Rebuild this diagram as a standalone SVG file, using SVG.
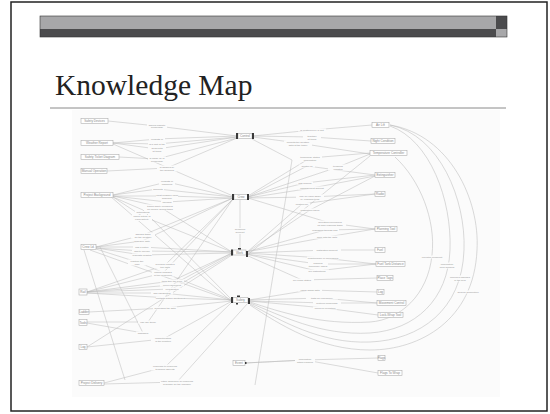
<svg xmlns="http://www.w3.org/2000/svg" width="550" height="414" viewBox="0 0 550 414">
  <style>
    .box { fill: #ffffff; stroke: #a8a8a8; stroke-width: 0.55; }
    .nt { font-family: "Liberation Sans", Arial, sans-serif; font-size: 3.1px; fill: #8a8a8a; text-anchor: middle; }
    .lt { font-family: "Liberation Sans", Arial, sans-serif; font-size: 2.5px; fill: #939393; text-anchor: middle; }
    .edge { stroke: #b8b8b8; stroke-width: 0.5; fill: none; }
    .arc { stroke: #bcbcbc; stroke-width: 0.55; fill: none; }
    .knob { fill: #3a3a3a; }
    .lbg { fill: #fbfbfb; }
  </style>

  <!-- slide frame -->
  <rect x="11" y="2" width="536" height="409" fill="#ffffff" stroke="#222222" stroke-width="1.5"/>

  <!-- header bar -->
  <g id="header-bar">
    <rect x="40" y="16" width="456" height="13" fill="#a7a7a9"/>
    <rect x="40" y="29" width="456" height="8" fill="#4b4b4d"/>
    <rect x="496" y="16" width="11" height="13" fill="#4b4b4d"/>
    <rect x="496" y="29" width="11" height="8" fill="#a7a7a9"/>
    <rect x="40" y="16" width="467" height="21" fill="none" stroke="#333" stroke-width="0.6"/>
  </g>

  <text x="55" y="95" font-family="Liberation Serif, 'Times New Roman', serif" font-size="29.5" fill="#222">Knowledge Map</text>
  <line x1="50" y1="108" x2="506" y2="108" stroke="#8a8a8a" stroke-width="1"/>

  <!-- map panel -->
  <rect x="72" y="110" width="428" height="287" fill="#fbfbfb"/>

  <g id="connectors">
    <!-- left side into Control -->
    <polyline class="edge" points="108,121 157,126 237,136"/>
    <polyline class="edge" points="113,143 157,139 237,136"/>
    <polyline class="edge" points="113,143 157,144 237,137"/>
    <polyline class="edge" points="113,143 157,149 237,137"/>
    <polyline class="edge" points="119,157 157,159 237,138"/>
    <polyline class="edge" points="107,171 167,168 237,138"/>
    <!-- Project Background -->
    <polyline class="edge" points="113,195 167,182 233,197"/>
    <polyline class="edge" points="113,195 158,189 233,197"/>
    <polyline class="edge" points="113,196 167,196 233,198"/>
    <polyline class="edge" points="113,196 167,202 233,198"/>
    <polyline class="edge" points="113,196 160,207 232,252"/>
    <polyline class="edge" points="113,197 143,210 232,300"/>
    <polyline class="edge" points="113,197 142,216 232,252"/>
    <!-- Crew Leader -->
    <polyline class="edge" points="96,247 143,235 233,198"/>
    <polyline class="edge" points="96,247 142,241 233,198"/>
    <polyline class="edge" points="96,247 142,247 232,252"/>
    <polyline class="edge" points="96,248 142,251 232,252"/>
    <polyline class="edge" points="96,248 142,255 232,253"/>
    <polyline class="edge" points="96,249 137,262 232,300"/>
    <line class="edge" x1="90" y1="250" x2="232" y2="301"/>
    <line class="edge" x1="84" y1="250" x2="125" y2="380"/>
    <!-- Rail -->
    <polyline class="edge" points="87,292 165,265 233,199"/>
    <polyline class="edge" points="87,292 163,273 233,199"/>
    <polyline class="edge" points="87,292 172,281 232,253"/>
    <polyline class="edge" points="87,292 172,285 232,253"/>
    <polyline class="edge" points="87,292 172,289 232,254"/>
    <polyline class="edge" points="87,293 162,293 232,300"/>
    <polyline class="edge" points="87,293 170,298 232,300"/>
    <!-- Ladder, Tools, Log -->
    <polyline class="edge" points="89,312 165,308 232,301"/>
    <polyline class="edge" points="87,322 148,322 233,199"/>
    <polyline class="edge" points="87,323 143,333 100,247"/>
    <polyline class="edge" points="87,347 163,339 232,301"/>
    <line class="edge" x1="87" y1="347" x2="232" y2="255"/>
    <line class="edge" x1="110" y1="196" x2="232" y2="302"/>
    <line class="edge" x1="113" y1="144" x2="233" y2="196"/>
    <!-- Project Delivery -->
    <polyline class="edge" points="104,383 165,367 232,302"/>
    <polyline class="edge" points="104,384 177,382 248,303"/>
    <!-- between hubs -->
    <polyline class="edge" points="240,200 240,230 240,250"/>
    <line class="edge" x1="252" y1="139" x2="292" y2="160"/>
    <line class="edge" x1="292" y1="160" x2="255" y2="385"/>
    <line class="edge" x1="370" y1="156" x2="246" y2="256"/>

    <!-- Control to the right -->
    <polyline class="edge" points="253,136 312,130 372,125"/>
    <polyline class="edge" points="253,136 312,137 371,141"/>
    <polyline class="edge" points="253,137 298,143 370,154"/>
    <polyline class="edge" points="248,196 310,158 370,153"/>
    <polyline class="edge" points="248,197 307,166 375,175"/>
    <polyline class="edge" points="248,197 338,167 370,154"/>
    <polyline class="edge" points="248,197 305,183 375,175"/>
    <polyline class="edge" points="248,198 312,188 375,176"/>
    <polyline class="edge" points="248,198 310,197 375,194"/>
    <polyline class="edge" points="246,253 302,204 375,194"/>
    <polyline class="edge" points="246,253 310,210 375,176"/>
    <polyline class="edge" points="248,198 330,223 375,229"/>
    <polyline class="edge" points="246,252 325,230 375,229"/>
    <polyline class="edge" points="246,252 327,237 375,229"/>
    <polyline class="edge" points="246,253 327,250 375,250"/>
    <polyline class="edge" points="246,253 323,258 376,264"/>
    <polyline class="edge" points="246,254 318,264 376,264"/>
    <polyline class="edge" points="246,254 317,271 376,264"/>
    <polyline class="edge" points="246,255 302,280 377,278"/>
    <polyline class="edge" points="249,300 310,290 377,292"/>
    <polyline class="edge" points="249,300 322,298 377,303"/>
    <polyline class="edge" points="249,301 327,303 377,303"/>
    <polyline class="edge" points="249,301 325,308 378,315"/>
    <polyline class="edge" points="245,363 305,360 378,358"/>
    <polyline class="edge" points="245,363 305,360 378,373"/>

    <!-- long sweeps from Safety round to the top right -->
    <path class="arc" d="M250,305 C280,325 320,350 370,350 C420,350 474,320 477,250 C480,200 450,135 390,125"/>
    <path class="arc" d="M250,304 C280,320 320,344 370,342 C420,340 462,310 464,250 C466,200 440,135 390,125"/>
    <path class="arc" d="M250,303 C280,315 320,336 370,333 C415,330 448,300 450,250 C452,200 430,140 390,126"/>
    <path class="arc" d="M250,302 C280,312 320,325 370,322 C400,320 428,295 432,255 C436,220 420,180 395,157"/>

    <!-- link phrases -->
    <g class="lt">
      <rect class="lbg" x="147" y="123" width="20" height="6"/>
      <text x="157" y="125.5">should indicate</text><text x="157" y="128.3">knowledge</text>
      <rect class="lbg" x="149" y="137.5" width="16" height="3"/><text x="157" y="139.8">consists of</text>
      <rect class="lbg" x="148" y="142.5" width="18" height="3"/><text x="157" y="144.8">is a part of the</text>
      <rect class="lbg" x="148" y="146.5" width="18" height="6"/>
      <text x="157" y="148.8">deals with</text><text x="157" y="151.6">at times</text>
      <rect class="lbg" x="148" y="156.5" width="18" height="6"/>
      <text x="157" y="158.8">is made up of</text><text x="157" y="161.6">knowledge</text>
      <rect class="lbg" x="157" y="165.5" width="20" height="6"/>
      <text x="167" y="167.8">is handled by</text><text x="167" y="170.6">the workflow</text>

      <rect class="lbg" x="159" y="179.5" width="16" height="6"/>
      <text x="167" y="181.8">consists of</text><text x="167" y="184.6">machines</text>
      <rect class="lbg" x="152" y="187.5" width="12" height="3"/><text x="158" y="189.8">supports</text>
      <rect class="lbg" x="156" y="193.5" width="22" height="6"/>
      <text x="167" y="195.8">must consider each</text><text x="167" y="198.6">schedule</text>
      <rect class="lbg" x="161" y="200.5" width="12" height="3"/><text x="167" y="202.8">includes</text>
      <rect class="lbg" x="146" y="204.5" width="28" height="6"/>
      <text x="160" y="206.8">tracks safety measures</text><text x="160" y="209.6">for worker during tasks</text>
      <rect class="lbg" x="135" y="211" width="16" height="3"/><text x="143" y="213.3">notifications</text>
      <rect class="lbg" x="132" y="215" width="20" height="6"/>
      <text x="142" y="217.3">forms outline of</text><text x="142" y="220.1">each activity</text>

      <rect class="lbg" x="131" y="232.5" width="24" height="6"/>
      <text x="143" y="234.8">assigns tasks</text><text x="143" y="237.6">for the weather</text>
      <rect class="lbg" x="134" y="239.5" width="16" height="3"/><text x="142" y="241.8">schedule date</text>
      <rect class="lbg" x="133" y="245.5" width="18" height="3"/><text x="142" y="247.8">has a notice</text>
      <rect class="lbg" x="132" y="249.5" width="20" height="3"/><text x="142" y="251.8">has to provide</text>
      <rect class="lbg" x="132" y="253.5" width="20" height="3"/><text x="142" y="255.8">requests updates</text>
      <rect class="lbg" x="128" y="259.5" width="18" height="6"/>
      <text x="137" y="261.8">position the</text><text x="137" y="264.6">plan</text>

      <rect class="lbg" x="154" y="262.5" width="22" height="6"/>
      <text x="165" y="264.8">provides updated</text><text x="165" y="267.6">tool data</text>
      <rect class="lbg" x="152" y="270.5" width="22" height="6"/>
      <text x="163" y="272.8">makes changes</text><text x="163" y="275.6">in tool sequence</text>
      <rect class="lbg" x="160" y="279.5" width="24" height="3"/><text x="172" y="281.8">talks thru the work</text>
      <rect class="lbg" x="160" y="283.5" width="24" height="3"/><text x="172" y="285.8">need equipment</text>
      <rect class="lbg" x="163" y="287.5" width="18" height="3"/><text x="172" y="289.8">coordinates</text>
      <rect class="lbg" x="151" y="291.5" width="22" height="3"/><text x="162" y="293.8">has capabilities</text>
      <rect class="lbg" x="156" y="296.5" width="28" height="3"/><text x="170" y="298.8">contacts further shutdown</text>
      <rect class="lbg" x="153" y="306.5" width="24" height="3"/><text x="165" y="308.8">processes the data</text>
      <rect class="lbg" x="138" y="320.5" width="20" height="3"/><text x="148" y="322.8">can use these</text>
      <rect class="lbg" x="136" y="331.5" width="14" height="3"/><text x="143" y="333.8">assesses</text>
      <rect class="lbg" x="151" y="336.5" width="24" height="6"/>
      <text x="163" y="338.8">characteristics</text><text x="163" y="341.6">of the function</text>
      <rect class="lbg" x="151" y="364.5" width="28" height="6"/>
      <text x="165" y="366.8">responds to problems</text><text x="165" y="369.6">technical aspects</text>
      <rect class="lbg" x="160" y="379.5" width="34" height="6"/>
      <text x="177" y="381.8">either announce all problems</text><text x="177" y="384.6">available for the machine</text>

      <rect class="lbg" x="234" y="228" width="12" height="6"/>
      <text x="240" y="230.3">Technical</text><text x="240" y="233.1">Support</text>

      <rect class="lbg" x="298" y="128.5" width="28" height="3"/><text x="312" y="130.8">is controlled by a unit</text>
      <rect class="lbg" x="303" y="134.5" width="18" height="6"/>
      <text x="312" y="136.8">together</text><text x="312" y="139.6">at times</text>
      <rect class="lbg" x="284" y="140.5" width="28" height="6"/>
      <text x="298" y="142.8">impacts the weather</text><text x="298" y="145.6">data at the tower</text>
      <rect class="lbg" x="298" y="155.5" width="24" height="6"/>
      <text x="310" y="157.8">technology status</text><text x="310" y="160.6">information</text>
      <rect class="lbg" x="299" y="164.5" width="16" height="3"/><text x="307" y="166.8">Control fill</text>
      <rect class="lbg" x="328" y="164.5" width="20" height="6"/>
      <text x="338" y="166.8">technical</text><text x="338" y="169.6">updates</text>
      <rect class="lbg" x="297" y="181.5" width="16" height="3"/><text x="305" y="183.8">has defined</text>
      <rect class="lbg" x="298" y="186.5" width="28" height="3"/><text x="312" y="188.8">management support</text>
      <rect class="lbg" x="296" y="194.5" width="28" height="6"/>
      <text x="310" y="196.8">may be used again</text><text x="310" y="199.6">by planning tools</text>
      <rect class="lbg" x="294" y="202.5" width="16" height="3"/><text x="302" y="204.8">position file</text>
      <rect class="lbg" x="298" y="208.5" width="24" height="3"/><text x="310" y="210.8">installation check</text>
      <rect class="lbg" x="314" y="220.5" width="32" height="6"/>
      <text x="330" y="222.8">operating procedures</text><text x="330" y="225.6">for safe planning tasks</text>
      <rect class="lbg" x="311" y="228.5" width="28" height="3"/><text x="325" y="230.8">managing through flow</text>
      <rect class="lbg" x="313" y="235.5" width="28" height="3"/><text x="327" y="237.8">work with the data</text>
      <rect class="lbg" x="313" y="248.5" width="28" height="3"/><text x="327" y="250.8">installation support</text>
      <rect class="lbg" x="307" y="256.5" width="32" height="3"/><text x="323" y="258.8">maintenance of procedures</text>
      <rect class="lbg" x="308" y="261.5" width="20" height="6"/>
      <text x="318" y="263.8">backfills</text><text x="318" y="266.6">temporary labels</text>
      <rect class="lbg" x="305" y="269.5" width="24" height="3"/><text x="317" y="271.8">fire instructions</text>
      <rect class="lbg" x="290" y="278.5" width="24" height="3"/><text x="302" y="280.8">fire pump states</text>
      <rect class="lbg" x="298" y="288.5" width="24" height="3"/><text x="310" y="290.8">visual signal data</text>
      <rect class="lbg" x="306" y="296.5" width="32" height="3"/><text x="322" y="298.8">tests for emergency</text>
      <rect class="lbg" x="313" y="301.5" width="28" height="3"/><text x="327" y="303.8">protocol knowledge</text>
      <rect class="lbg" x="313" y="306.5" width="24" height="3"/><text x="325" y="308.8">focus on operation</text>
      <rect class="lbg" x="295" y="357.5" width="20" height="6"/>
      <text x="305" y="359.8">information</text><text x="305" y="362.6">within planned</text>

      <rect class="lbg" x="422" y="255.5" width="20" height="3"/><text x="432" y="257.8">operator comment</text>
      <rect class="lbg" x="439" y="262.5" width="16" height="6"/>
      <text x="447" y="264.8">information</text><text x="447" y="267.6">from sensors</text>
      <rect class="lbg" x="451" y="275.5" width="18" height="6"/>
      <text x="460" y="277.8">informed changes</text><text x="460" y="280.6">in the field</text>
      <rect class="lbg" x="458" y="290.5" width="20" height="3"/><text x="468" y="292.8">general description</text>
    </g>
  </g>

  <!-- left concepts -->
  <g id="safety-devices"><rect class="box" x="81" y="118.5" width="27" height="5"/><text class="nt" x="94.5" y="122.2">Safety Devices</text></g>
  <g id="weather-report"><rect class="box" x="81" y="140.5" width="32" height="5"/><text class="nt" x="97" y="144.2">Weather Report</text></g>
  <g id="safety-ticket"><rect class="box" x="81" y="154.5" width="38" height="5"/><text class="nt" x="100" y="158.2">Safety Ticket Diagram</text></g>
  <g id="manual-operation"><rect class="box" x="81" y="168.5" width="26" height="5"/><text class="nt" x="94" y="172.2">Manual Operation</text></g>
  <g id="project-background"><rect class="box" x="81" y="192.5" width="32" height="5"/><text class="nt" x="97" y="196.2">Project Background</text></g>
  <g id="crew-leader"><rect class="box" x="81" y="244.5" width="15" height="5"/><text class="nt" x="88.5" y="248.2">Crew Ld.</text></g>
  <g id="rail"><rect class="box" x="79" y="289" width="8" height="6"/><text class="nt" x="83" y="293">Rail</text></g>
  <g id="ladder"><rect class="box" x="79" y="309.5" width="10" height="5"/><text class="nt" x="84" y="313.2">Ladder</text></g>
  <g id="tools"><rect class="box" x="79" y="319.5" width="8" height="6"/><text class="nt" x="83" y="323.5">Tools</text></g>
  <g id="log-left"><rect class="box" x="79" y="344.5" width="8" height="5"/><text class="nt" x="83" y="348.2">Log</text></g>
  <g id="project-delivery"><rect class="box" x="79" y="380.5" width="25" height="5"/><text class="nt" x="91.5" y="384.2">Project Delivery</text></g>

  <!-- central hubs -->
  <g id="hub-control">
    <rect class="box" x="238" y="133.5" width="14" height="5"/><text class="nt" x="245" y="137.2">Control</text>
    <rect class="knob" x="236" y="133" width="2" height="6"/><rect class="knob" x="252" y="133" width="2" height="6"/>
  </g>
  <g id="hub-crew">
    <rect class="box" x="234" y="194.5" width="14" height="5"/><text class="nt" x="241" y="198.2">Crew</text>
    <rect class="knob" x="232" y="194" width="2" height="6"/><rect class="knob" x="247" y="194" width="2" height="6"/>
  </g>
  <g id="hub-work">
    <rect class="box" x="233" y="250" width="13" height="5"/><text class="nt" x="239.5" y="253.7">Work</text>
    <rect class="knob" x="231" y="249.5" width="2" height="6"/><rect class="knob" x="246" y="251" width="2" height="6"/>
    <rect class="knob" x="238" y="248" width="3" height="1.5"/>
  </g>
  <g id="hub-safety">
    <rect class="box" x="233" y="297.5" width="15" height="5"/><text class="nt" x="240.5" y="301.2">Safety</text>
    <rect class="knob" x="231" y="297" width="2" height="6"/><rect class="knob" x="248" y="298" width="2" height="6"/>
    <rect class="knob" x="237" y="295.5" width="3" height="1.5"/><rect class="knob" x="236" y="303" width="2" height="1.5"/>
  </g>
  <g id="event">
    <rect class="box" x="233" y="360.5" width="12" height="5"/><text class="nt" x="239" y="364.2">Event</text>
    <rect class="knob" x="245" y="362" width="1.5" height="2"/>
  </g>

  <!-- right concepts -->
  <g id="air-lift"><rect class="box" x="372" y="122.5" width="17" height="5"/><text class="nt" x="380.5" y="126.2">Air Lift</text></g>
  <g id="night-condition"><rect class="box" x="371" y="138.5" width="24" height="5"/><text class="nt" x="383" y="142.2">Night Condition</text></g>
  <g id="temp-controller"><rect class="box" x="370" y="150.5" width="37" height="5"/><text class="nt" x="388.5" y="154.2">Temperature Controller</text></g>
  <g id="extinguisher"><rect class="box" x="375" y="172.5" width="20" height="5"/><text class="nt" x="385" y="176.2">Extinguisher</text></g>
  <g id="radio"><rect class="box" x="375" y="191.5" width="10" height="5"/><text class="nt" x="380" y="195.2">Radio</text></g>
  <g id="planning-tool"><rect class="box" x="375" y="226.5" width="22" height="5"/><text class="nt" x="386" y="230.2">Planning Tool</text></g>
  <g id="fuel"><rect class="box" x="375" y="247.5" width="10" height="5"/><text class="nt" x="380" y="251.2">Fuel</text></g>
  <g id="fuel-tank"><rect class="box" x="376" y="261.5" width="29" height="5"/><text class="nt" x="390.5" y="265.2">Fuel Tank Distance</text></g>
  <g id="place-tags"><rect class="box" x="377" y="275.5" width="16" height="5"/><text class="nt" x="385" y="279.2">Place Tags</text></g>
  <g id="log-right"><rect class="box" x="377" y="289.5" width="7" height="5"/><text class="nt" x="380.5" y="293.2">Log</text></g>
  <g id="movement-control"><rect class="box" x="377" y="300.5" width="29" height="5"/><text class="nt" x="391.5" y="304.2">Movement Control</text></g>
  <g id="lock-wrap"><rect class="box" x="378" y="312.5" width="25" height="5"/><text class="nt" x="390.5" y="316.2">Lock-Wrap Tool</text></g>
  <g id="flags"><rect class="box" x="378" y="355.5" width="7" height="5"/><text class="nt" x="381.5" y="359.2">Flags</text></g>
  <g id="flags-to-wrap"><rect class="box" x="378" y="370.5" width="24" height="5"/><text class="nt" x="390" y="374.2">Flags To Wrap</text></g>
</svg>
